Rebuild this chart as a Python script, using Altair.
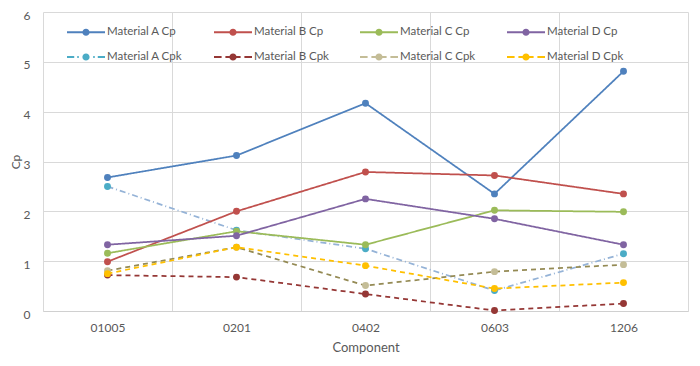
import altair as alt
import pandas as pd

components = ["01005", "0201", "0402", "0603", "1206"]
# order chosen so that the 2-row legend reads Cp on the first row, Cpk on the second
series_names = ["Material A Cp", "Material A Cpk", "Material B Cp", "Material B Cpk",
                "Material C Cp", "Material C Cpk", "Material D Cp", "Material D Cpk"]
a_cp = [2.68, 3.12, 4.17, 2.35, 4.81]
a_cpk = [2.50, 1.62, 1.25, 0.41, 1.15]
b_cp = [0.99, 2.00, 2.79, 2.72, 2.35]
b_cpk = [0.72, 0.68, 0.34, 0.01, 0.15]
c_cp = [1.16, 1.60, 1.33, 2.02, 1.99]
c_cpk = [0.81, 1.28, 0.51, 0.79, 0.93]
d_cp = [1.33, 1.51, 2.25, 1.85, 1.33]
d_cpk = [0.75, 1.28, 0.91, 0.45, 0.57]
values = [a_cp, a_cpk, b_cp, b_cpk, c_cp, c_cpk, d_cp, d_cpk]

line_colors = ["#4F81BD", "#95B3D7", "#C0504D", "#953735",
               "#9BBB59", "#948A54", "#8064A2", "#FFC000"]
marker_colors = ["#4F81BD", "#4BACC6", "#C0504D", "#953735",
                 "#9BBB59", "#C4BD97", "#8064A2", "#FFC000"]
dashes = [[1, 0], [6, 3, 1, 3], [1, 0], [5, 4], [1, 0], [5, 4], [1, 0], [5, 4]]

circ = " M0.19,0A0.19,0.19,0,1,1,-0.19,0A0.19,0.19,0,1,1,0.19,0Z"
solid = "M-1,-0.05H1V0.05H-1Z" + circ
dashed = ("M-1,-0.05H-0.6V0.05H-1Z M-0.4,-0.05H0.4V0.05H-0.4Z "
          "M0.6,-0.05H1V0.05H0.6Z") + circ
dashdot = ("M-1,-0.05H-0.62V0.05H-1Z M-0.46,-0.05H-0.38V0.05H-0.46Z "
           "M0.38,-0.05H0.46V0.05H0.38Z M0.62,-0.05H1V0.05H0.62Z") + circ
shapes = [solid, dashdot, solid, dashed, solid, dashed, solid, dashed]

rows = []
for name, vals in zip(series_names, values):
    for comp, v in zip(components, vals):
        rows.append({"component": comp, "series": name, "value": v})
df = pd.DataFrame(rows)

FONT = "Lato"

x = alt.X("component:N", sort=components, title="Component",
          scale=alt.Scale(paddingInner=0, paddingOuter=0),
          axis=alt.Axis(labelAngle=0, ticks=False, grid=True, tickBand="extent",
                        gridColor="#D9D9D9", domainColor="#D0D0D0",
                        labelPadding=11, titlePadding=8))
y = alt.Y("value:Q", title="Cp",
          scale=alt.Scale(domain=[0, 6], nice=False),
          axis=alt.Axis(values=[0, 1, 2, 3, 4, 5, 6], domain=False, ticks=False,
                        gridColor="#D9D9D9", labelPadding=13, labelOffset=3,
                        titleX=-21, titleFontSize=12))

base = alt.Chart(df)

legend_props = dict(title=None, orient="none", legendX=24, legendY=1, columns=4,
                    columnPadding=31, rowPadding=-12, symbolSize=1444,
                    symbolStrokeWidth=0, labelFont=FONT, labelFontSize=11.5,
                    labelColor="#595959", labelOffset=2)

legend_layer = base.mark_point(filled=True, size=1444, opacity=1).encode(
    x=x, y=y,
    color=alt.Color("series:N", scale=alt.Scale(domain=series_names, range=marker_colors),
                    legend=alt.Legend(**legend_props)),
    shape=alt.Shape("series:N", scale=alt.Scale(domain=series_names, range=shapes),
                    legend=alt.Legend(**legend_props)),
).transform_filter("false")

lines = base.mark_line(strokeWidth=1.75).encode(
    x=x, y=y,
    stroke=alt.Stroke("series:N", scale=alt.Scale(domain=series_names, range=line_colors), legend=None),
    strokeDash=alt.StrokeDash("series:N", scale=alt.Scale(domain=series_names, range=dashes), legend=None),
    detail="series:N",
)

points = base.mark_circle(size=48, opacity=1).encode(
    x=x, y=y,
    color=alt.Color("series:N", scale=alt.Scale(domain=series_names, range=marker_colors), legend=None),
)

chart = alt.layer(legend_layer, lines, points).properties(
    width=645, height=299,
    autosize=alt.AutoSizeParams(type="none"),
    padding={"left": 35, "top": 4, "right": 4, "bottom": 47},
).configure_view(stroke=None).configure_axis(
    labelFont=FONT, titleFont=FONT, labelFontSize=12, titleFontSize=13,
    labelColor="#595959", titleColor="#595959", titleFontWeight="normal",
)

chart.save("out.html", embed_options={"renderer": "svg", "actions": False})
